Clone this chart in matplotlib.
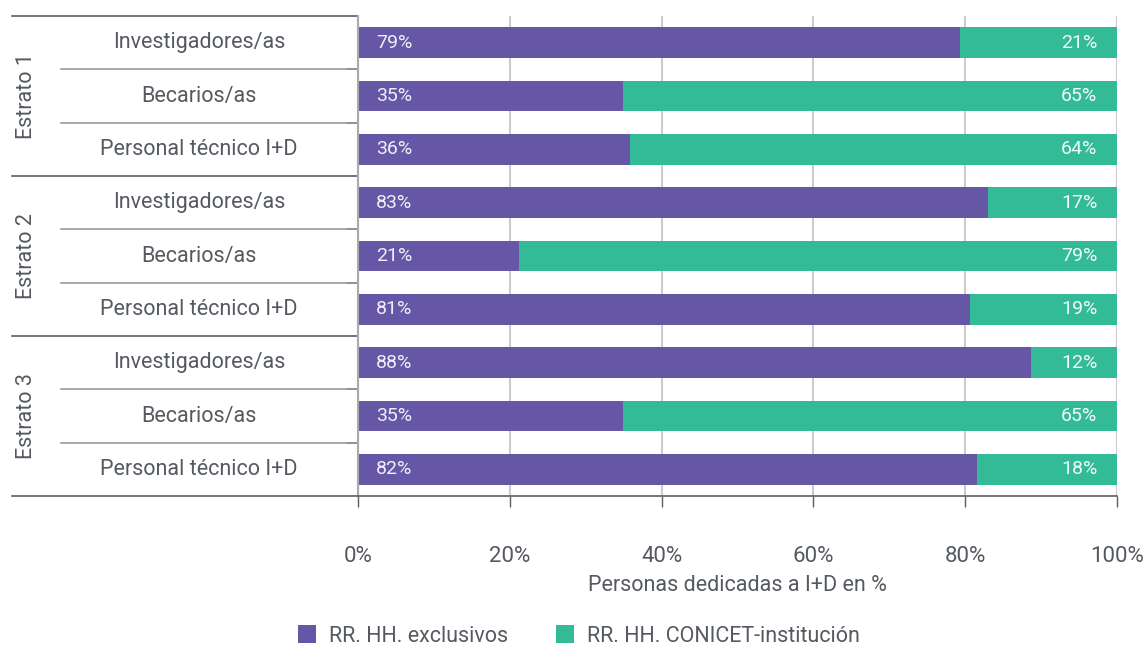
import matplotlib
matplotlib.use("Agg")
import matplotlib.pyplot as plt
from matplotlib.patches import Patch

plt.rcParams['font.family'] = ['Roboto', 'DejaVu Sans']

groups = ["Estrato 1", "Estrato 2", "Estrato 3"]
roles = ["Investigadores/as", "Becarios/as", "Personal técnico I+D"]
exclusivos = [79.3, 34.9, 35.8, 83.0, 21.2, 80.6, 88.7, 34.9, 81.6]
exclusivos_lbl = ["79%", "35%", "36%", "83%", "21%", "81%", "88%", "35%", "82%"]
conicet_lbl = ["21%", "65%", "64%", "17%", "79%", "19%", "12%", "65%", "18%"]
conicet = [100 - v for v in exclusivos]
xticks = [0, 20, 40, 60, 80, 100]
xticklabels = ["0%", "20%", "40%", "60%", "80%", "100%"]

PURPLE = "#6557A5"
GREEN = "#33BB98"
TXT = "#555a60"
DARK = "#5a5f66"
FS = 15.5

fig = plt.figure(figsize=(11.48, 6.46), dpi=100)
ax = fig.add_axes([358/1148, 1-496/646, 759/1148, 480/646])

n = len(exclusivos)
ys = list(range(n))
ax.barh(ys, exclusivos, height=0.58, color=PURPLE, zorder=3)
ax.barh(ys, conicet, left=exclusivos, height=0.58, color=GREEN, zorder=3)

for y, v, l1, l2 in zip(ys, exclusivos, exclusivos_lbl, conicet_lbl):
    ax.text(2.4, y, l1, ha="left", va="center", color="#f0eef8", fontsize=14, zorder=4)
    ax.text(97.4, y, l2, ha="right", va="center", color="#eefaf5", fontsize=14, zorder=4)

ax.set_xlim(0, 100)
ax.set_ylim(n - 0.5, -0.5)
ax.set_xticks(xticks)
ax.set_xticklabels(xticklabels)
ax.set_yticks([])
ax.set_yticks([i + 0.5 for i in range(n - 1) if (i + 1) % 3 != 0], minor=True)
ax.tick_params(axis="y", which="minor", length=8, color=DARK, width=1.2, labelleft=False)
ax.tick_params(axis="x", length=8, color=DARK, width=1.0, pad=28, labelsize=16, labelcolor=TXT)
ax.xaxis.grid(True, color="#cccccc", linewidth=1.5, zorder=0)
ax.set_axisbelow(True)
for s in ["top", "right", "bottom"]:
    ax.spines[s].set_visible(False)
ax.spines["left"].set_color("#aaaaaa")
ax.spines["left"].set_linewidth(1.5)
ax.spines["left"].set_zorder(5)

ax.set_xlabel("Personas dedicadas a I+D en %", fontsize=FS, color=TXT, labelpad=6)

tr = ax.get_yaxis_transform()
x_group = (12 - 358) / 759
x_inner = (61 - 358) / 759
# group separators
for b in [-0.5, 2.5, 5.5]:
    ax.plot([x_group, 0], [b, b], transform=tr, color=DARK, linewidth=1.2, clip_on=False)
ax.plot([x_group, 1], [n - 0.5, n - 0.5], transform=tr, color=DARK, linewidth=1.2, clip_on=False, zorder=6)
# inner separators
for i in range(n - 1):
    if (i + 1) % 3 != 0:
        ax.plot([x_inner, 0], [i + 0.5, i + 0.5], transform=tr, color="#999999", linewidth=1.2, clip_on=False)

# row labels
x_row = (199 - 358) / 759
for i in range(n):
    ax.text(x_row, i, roles[i % 3], transform=tr, ha="center", va="center", fontsize=FS, color=TXT)
# group labels
x_grp_lbl = (27 - 358) / 759
for g, name in enumerate(groups):
    ax.text(x_grp_lbl, g * 3 + 1, name, transform=tr, ha="center", va="center", rotation=90,
            fontsize=FS, color=TXT)

handles = [Patch(facecolor=PURPLE, label="RR. HH. exclusivos"),
           Patch(facecolor=GREEN, label="RR. HH. CONICET-institución")]
leg = fig.legend(handles=handles, loc="center", bbox_to_anchor=(579/1148, 1-636/646), ncol=2,
                 frameon=False, fontsize=FS, handlelength=0.85, handleheight=0.85,
                 columnspacing=2.2, handletextpad=0.6)
for t in leg.get_texts():
    t.set_color(TXT)

fig.savefig("out.png", dpi=100)
